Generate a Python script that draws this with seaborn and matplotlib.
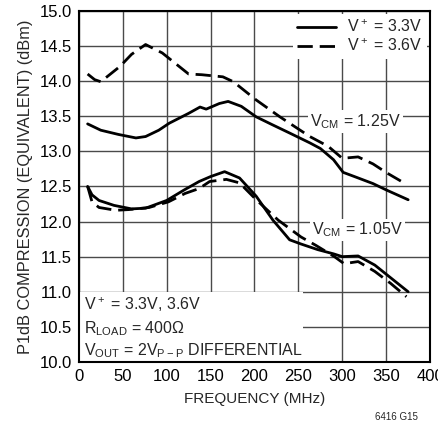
import numpy as np
import pandas as pd
import matplotlib
matplotlib.use('Agg')
import matplotlib.pyplot as plt
import seaborn as sns
from matplotlib.lines import Line2D
from matplotlib.patches import Rectangle

# values
f_33_125 = [10, 25, 45, 65, 76, 91, 103, 125, 138, 145, 160, 170, 185, 202, 220, 240, 263, 275, 290, 301, 316, 335, 350, 375]
p_33_125 = [13.39, 13.30, 13.24, 13.19, 13.21, 13.30, 13.40, 13.54, 13.63, 13.60, 13.68, 13.71, 13.64, 13.49, 13.38, 13.26, 13.12, 13.04, 12.88, 12.70, 12.63, 12.54, 12.45, 12.31]

f_36_125 = [10, 18, 25, 47, 60, 76, 95, 114, 125, 140, 164, 176, 202, 229, 263, 284, 300, 318, 335, 351, 373]
p_36_125 = [14.10, 14.02, 13.99, 14.21, 14.38, 14.52, 14.40, 14.21, 14.10, 14.09, 14.06, 13.99, 13.73, 13.49, 13.21, 13.07, 12.90, 12.92, 12.82, 12.69, 12.53]

f_33_105 = [10, 15, 23, 40, 60, 76, 100, 120, 137, 150, 166, 183, 202, 221, 240, 253, 272, 290, 300, 318, 337, 356, 375]
p_33_105 = [12.50, 12.38, 12.30, 12.23, 12.18, 12.19, 12.30, 12.45, 12.57, 12.64, 12.71, 12.62, 12.36, 12.02, 11.74, 11.68, 11.60, 11.54, 11.50, 11.51, 11.38, 11.19, 11.00]

f_36_105 = [10, 15, 23, 42, 57, 80, 102, 121, 137, 149, 168, 183, 202, 227, 253, 270, 291, 302, 318, 337, 355, 373]
p_36_105 = [12.50, 12.28, 12.20, 12.16, 12.17, 12.20, 12.28, 12.40, 12.47, 12.57, 12.60, 12.55, 12.31, 12.02, 11.78, 11.66, 11.50, 11.40, 11.43, 11.29, 11.12, 10.93]

supply_labels = ['V$^+$ = 3.3V', 'V$^+$ = 3.6V']
xticks = [0, 50, 100, 150, 200, 250, 300, 350, 400]
yticks = [10.0, 10.5, 11.0, 11.5, 12.0, 12.5, 13.0, 13.5, 14.0, 14.5, 15.0]

rows = []
for f, p, s, v in [(f_33_125, p_33_125, supply_labels[0], '1.25'),
                   (f_36_125, p_36_125, supply_labels[1], '1.25'),
                   (f_33_105, p_33_105, supply_labels[0], '1.05'),
                   (f_36_105, p_36_105, supply_labels[1], '1.05')]:
    for a, b in zip(f, p):
        rows.append({'freq': a, 'p1db': b, 'supply': s, 'vcm': v})
df = pd.DataFrame(rows)

sns.set_style('white')
plt.rcParams['font.family'] = ['Liberation Sans', 'DejaVu Sans']
plt.rcParams['mathtext.default'] = 'regular'

fig = plt.figure(figsize=(4.38, 4.32), dpi=100)
ax = fig.add_axes([0.180, 0.162, 0.802, 0.813])

lw = 2.0
dash = (5.5, 2.5)
sns.lineplot(data=df, x='freq', y='p1db', style='supply', units='vcm', estimator=None,
             sort=False, color='black', linewidth=lw, legend=False, ax=ax,
             dashes={supply_labels[0]: '', supply_labels[1]: dash}, zorder=3)

ax.set_xlim(0, 400)
ax.set_ylim(10, 15)
ax.set_xticks(xticks)
ax.set_yticks(yticks)
ax.set_yticklabels([f'{t:.1f}' for t in yticks])
ax.set_axisbelow(True)
ax.grid(True, color='#4a4a4a', linewidth=1.0)
for s in ax.spines.values():
    s.set_color('black')
    s.set_linewidth(1.5)
ax.tick_params(direction='in', length=3, labelsize=12, colors='black', pad=5)

ax.set_xlabel('FREQUENCY (MHz)', fontsize=11, labelpad=6)
ax.set_ylabel('P1dB COMPRESSION (EQUIVALENT) (dBm)', fontsize=11.8, labelpad=5)

# white box behind the conditions text
ax.add_patch(Rectangle((0, 0), 0.638, 0.2, transform=ax.transAxes,
                       facecolor='white', edgecolor='none', zorder=1))
ax.text(0.015, 0.162, 'V$^+$ = 3.3V, 3.6V', transform=ax.transAxes, fontsize=11.5, va='center', zorder=4)
ax.text(0.015, 0.095, 'R$_{LOAD}$ = 400Ω', transform=ax.transAxes, fontsize=11.5, va='center', zorder=4)
ax.text(0.015, 0.032, 'V$_{OUT}$ = 2V$_{P-P}$ DIFFERENTIAL', transform=ax.transAxes, fontsize=11.5, va='center', zorder=4)

box = dict(facecolor='white', edgecolor='none', pad=1.5)
ax.text(315, 13.42, 'V$_{CM}$ = 1.25V', fontsize=11.5, ha='center', va='center', bbox=box, zorder=2)
ax.text(317, 11.88, 'V$_{CM}$ = 1.05V', fontsize=11.5, ha='center', va='center', bbox=box, zorder=2)

handles = [Line2D([], [], color='black', linewidth=lw),
           Line2D([], [], color='black', linewidth=lw, dashes=dash)]
leg = ax.legend(handles, supply_labels, loc='upper right', fontsize=11.5, frameon=True,
                handlelength=2.4, handletextpad=0.7, borderaxespad=0.2, labelspacing=0.15,
                borderpad=0.3, fancybox=False)
leg.get_frame().set_facecolor('white')
leg.get_frame().set_edgecolor('none')
leg.get_frame().set_alpha(1)

fig.text(0.955, 0.022, '6416 G15', fontsize=7, ha='right', va='bottom')

fig.savefig('out.png', dpi=100)
